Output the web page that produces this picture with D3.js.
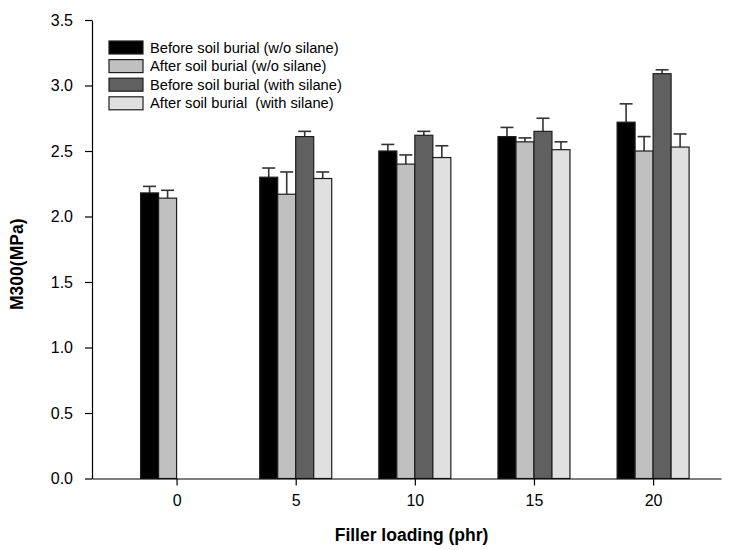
<!DOCTYPE html>
<html>
<head>
<meta charset="utf-8">
<script src="https://cdn.jsdelivr.net/npm/d3@7/dist/d3.min.js"></script>
<style>
  body { margin: 0; background: #fff; }
  text { font-family: Arial, "Liberation Sans", sans-serif; }
</style>
</head>
<body>
<script>
// filler loading (phr)
var loadings = [0, 5, 10, 15, 20];

var seriesNames = [
  "Before soil burial (w/o silane)",
  "After soil burial (w/o silane)",
  "Before soil burial (with silane)",
  "After soil burial  (with silane)"
];
var seriesColors = ["#000000", "#c0c0c0", "#606060", "#e0e0e0"];

// M300 values (MPa) and upper error
var beforeNoSilane    = [2.18, 2.30, 2.50, 2.61, 2.72];
var beforeNoSilaneErr = [0.05, 0.07, 0.05, 0.07, 0.14];
var afterNoSilane     = [2.14, 2.17, 2.40, 2.57, 2.50];
var afterNoSilaneErr  = [0.06, 0.17, 0.07, 0.03, 0.11];
var beforeSilane      = [null, 2.61, 2.62, 2.65, 3.09];
var beforeSilaneErr   = [null, 0.04, 0.03, 0.10, 0.03];
var afterSilane       = [null, 2.29, 2.45, 2.51, 2.53];
var afterSilaneErr    = [null, 0.05, 0.09, 0.06, 0.10];

var yTicks = [0, 0.5, 1.0, 1.5, 2.0, 2.5, 3.0, 3.5];

var values = [beforeNoSilane, afterNoSilane, beforeSilane, afterSilane];
var errors = [beforeNoSilaneErr, afterNoSilaneErr, beforeSilaneErr, afterSilaneErr];

var w = 732, h = 550;
var padLeft = 92, padRight = 721, padTop = 20, padBottom = 478.5;

var svg = d3.select("body").append("svg")
  .attr("width", w)
  .attr("height", h);

var xScale = d3.scaleLinear()
  .domain([-3.55, 22.85])
  .range([padLeft, padRight]);

var yScale = d3.scaleLinear()
  .domain([0, 3.5])
  .range([padBottom, padTop]);

// position of a bar inside its group
var inner = d3.scaleBand()
  .domain(d3.range(seriesNames.length))
  .range([-36, 36]);

// flatten to one record per bar
var bars = [];
values.forEach(function(s, i) {
  s.forEach(function(v, j) {
    if (v !== null) bars.push({ series: i, x: loadings[j], v: v, e: errors[i][j] });
  });
});

// error bars (upper only)
var eb = svg.append("g").attr("class", "errors")
  .attr("stroke", "#333").attr("stroke-width", 1.6);
bars.forEach(function(d) {
  var cx = xScale(d.x) + inner(d.series) + inner.bandwidth() / 2;
  eb.append("line")
    .attr("x1", cx).attr("x2", cx)
    .attr("y1", yScale(d.v)).attr("y2", yScale(d.v + d.e));
  eb.append("line")
    .attr("x1", cx - 6.5).attr("x2", cx + 6.5)
    .attr("y1", yScale(d.v + d.e)).attr("y2", yScale(d.v + d.e));
});

svg.append("g").attr("class", "bars")
  .selectAll("rect")
  .data(bars)
  .enter()
  .append("rect")
  .attr("x", function(d) { return xScale(d.x) + inner(d.series); })
  .attr("width", inner.bandwidth())
  .attr("y", function(d) { return yScale(d.v); })
  .attr("height", function(d) { return yScale(0) - yScale(d.v); })
  .attr("fill", function(d) { return seriesColors[d.series]; })
  .attr("stroke", "#1e1e1e")
  .attr("stroke-width", 1.2);

// x axis
var xAxis = d3.axisBottom(xScale)
  .tickValues(loadings)
  .tickSize(7)
  .tickPadding(9)
  .tickSizeOuter(0);
var gx = svg.append("g")
  .attr("transform", "translate(0," + padBottom + ")")
  .call(xAxis);
gx.selectAll("text").attr("font-size", 16).attr("fill", "#000");

// y axis
var yAxis = d3.axisLeft(yScale)
  .tickValues(yTicks)
  .tickFormat(d3.format(".1f"))
  .tickSize(7)
  .tickPadding(12)
  .tickSizeOuter(0);
var gy = svg.append("g")
  .attr("transform", "translate(" + padLeft + ",0)")
  .call(yAxis);
gy.selectAll("text").attr("font-size", 16).attr("fill", "#000");

svg.selectAll(".domain, .tick line").attr("stroke", "#000").attr("stroke-width", 1.2);

// axis titles
svg.append("text")
  .attr("x", (padLeft + padRight) / 2 + 5)
  .attr("y", 541)
  .attr("text-anchor", "middle")
  .attr("font-size", 17.5)
  .attr("font-weight", "bold")
  .text("Filler loading (phr)");

svg.append("text")
  .attr("transform", "translate(23," + ((padTop + padBottom) / 2 + 15) + ") rotate(-90)")
  .attr("text-anchor", "middle")
  .attr("font-size", 17.5)
  .attr("font-weight", "bold")
  .text("M300(MPa)");

// legend
var legend = svg.append("g").attr("transform", "translate(109,41)");
seriesNames.forEach(function(name, i) {
  var row = legend.append("g").attr("transform", "translate(0," + (i * 18.6) + ")");
  row.append("rect")
    .attr("width", 34).attr("height", 13)
    .attr("fill", seriesColors[i])
    .attr("stroke", "#1e1e1e").attr("stroke-width", 1.2);
  row.append("text")
    .attr("x", 41).attr("y", 11.5)
    .attr("font-size", 14.7)
    .attr("xml:space", "preserve")
    .style("white-space", "pre")
    .text(name);
});
</script>
</body>
</html>
